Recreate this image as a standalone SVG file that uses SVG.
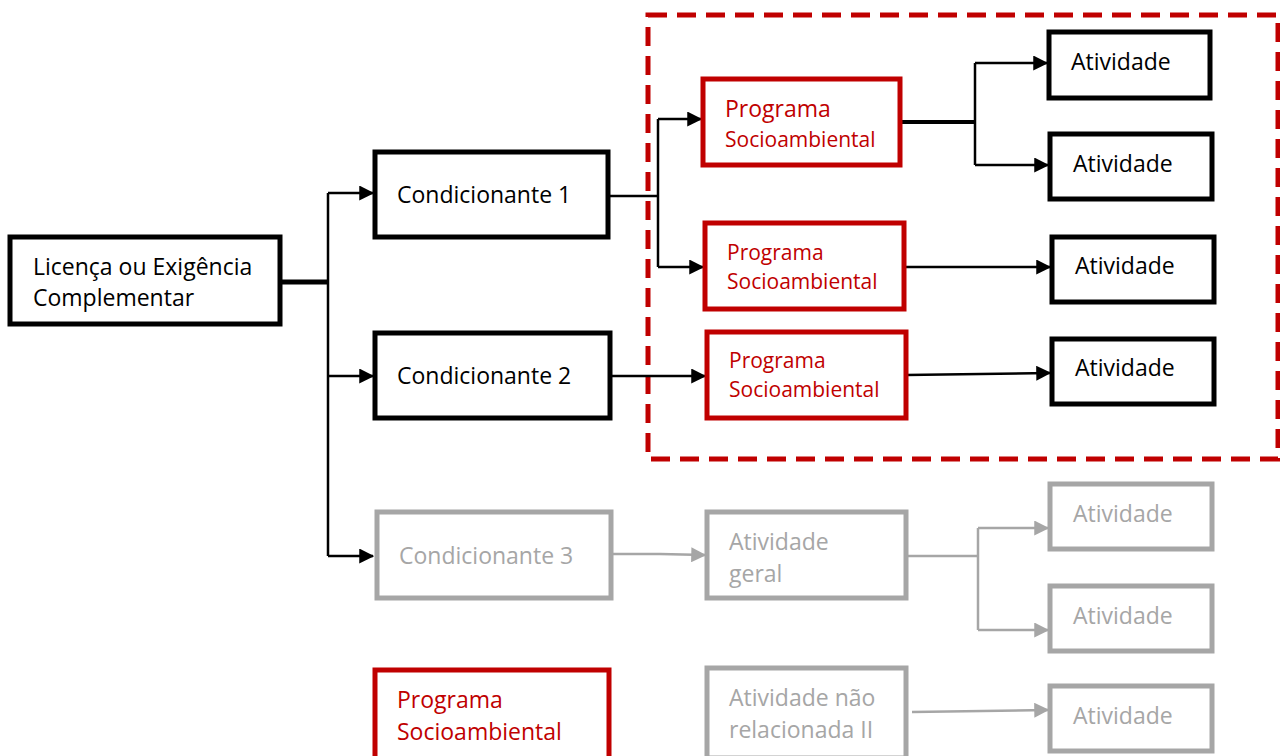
<svg xmlns="http://www.w3.org/2000/svg" width="1280" height="756" viewBox="0 0 1280 756">
<style>
.t{font-family:"Open Sans","Lato","Liberation Sans",sans-serif;font-size:23px}
.s{font-size:21px}
.blk rect{fill:#fff;stroke:#000;stroke-width:5}
.red rect{fill:#fff;stroke:#c00000;stroke-width:5}
.gry rect{fill:#fff;stroke:#a6a6a6;stroke-width:5}
.blk text{fill:#000}
.red text{fill:#c00000}
.gry text{fill:#a6a6a6}
.c{fill:none;stroke:#000;stroke-width:2.5}
.cg{fill:none;stroke:#a6a6a6;stroke-width:2.5}
.thick{stroke-width:5}
</style>
<defs>
<marker id="ab" markerWidth="6" markerHeight="6" refX="5.5" refY="3" orient="auto" markerUnits="strokeWidth"><path d="M0,0L6,3L0,6Z" fill="#000"/></marker>
<marker id="ag" markerWidth="6" markerHeight="6" refX="5.5" refY="3" orient="auto" markerUnits="strokeWidth"><path d="M0,0L6,3L0,6Z" fill="#a6a6a6"/></marker>
</defs>
<rect x="648" y="15" width="630" height="444" fill="none" stroke="#c00000" stroke-width="5" stroke-dasharray="19,10"/>
<g id="connectors">
<path class="c thick" d="M280,282H328"/>
<path class="c" d="M328,193V556"/>
<path class="c" d="M328,193H373" marker-end="url(#ab)"/>
<path class="c" d="M328,376H373" marker-end="url(#ab)"/>
<path class="c" d="M328,556H373" marker-end="url(#ab)"/>
<path class="c" d="M608,196H658"/>
<path class="c" d="M658,119V267"/>
<path class="c" d="M658,119H701" marker-end="url(#ab)"/>
<path class="c" d="M658,267H703" marker-end="url(#ab)"/>
<path class="c" d="M610,376H705" marker-end="url(#ab)"/>
<path class="c" style="stroke-width:4" d="M900,122H975"/>
<path class="c" d="M975,63V165"/>
<path class="c" d="M975,63H1047" marker-end="url(#ab)"/>
<path class="c" d="M975,165H1048" marker-end="url(#ab)"/>
<path class="c" d="M904,267H1050" marker-end="url(#ab)"/>
<path class="c" d="M906,375L1050,373" marker-end="url(#ab)"/>
<path class="cg" d="M611,554H660L705,555" marker-end="url(#ag)"/>
<path class="cg" d="M906,556H978"/>
<path class="cg" d="M978,528V630"/>
<path class="cg" d="M978,528H1048" marker-end="url(#ag)"/>
<path class="cg" d="M978,630H1048" marker-end="url(#ag)"/>
<path class="cg" d="M912,712L1048,710" marker-end="url(#ag)"/>
</g>
<g id="licenca" class="blk"><rect x="10" y="237" width="270" height="87"/><text class="t" x="33" y="275">Licença ou Exigência</text><text class="t" x="33" y="306">Complementar</text></g>
<g id="cond1" class="blk"><rect x="375" y="152" width="233" height="85"/><text class="t" x="397" y="203">Condicionante 1</text></g>
<g id="cond2" class="blk"><rect x="375" y="333" width="235" height="85"/><text class="t" x="397" y="384">Condicionante 2</text></g>
<g id="cond3" class="gry"><rect x="377" y="512" width="234" height="86"/><text class="t" x="399" y="564">Condicionante 3</text></g>
<g id="ps1" class="red"><rect x="703" y="79" width="197" height="86"/><text class="t" x="725" y="117">Programa</text><text class="t s" x="725" y="147">Socioambiental</text></g>
<g id="ps2" class="red"><rect x="705" y="223" width="199" height="86"/><text class="t s" x="727" y="260">Programa</text><text class="t s" x="727" y="289">Socioambiental</text></g>
<g id="ps3" class="red"><rect x="707" y="332" width="199" height="86"/><text class="t s" x="729" y="368">Programa</text><text class="t s" x="729" y="397">Socioambiental</text></g>
<g id="ps4" class="red"><rect x="375" y="670" width="234" height="90"/><text class="t" x="397" y="708">Programa</text><text class="t" x="397" y="740">Socioambiental</text></g>
<g id="ativgeral" class="gry"><rect x="707" y="512" width="199" height="86"/><text class="t" x="729" y="550">Atividade</text><text class="t" x="729" y="582">geral</text></g>
<g id="ativnao" class="gry"><rect x="707" y="668" width="199" height="90"/><text class="t" x="729" y="706">Atividade não</text><text class="t" x="729" y="738">relacionada II</text></g>
<g id="a1" class="blk"><rect x="1049" y="32" width="161" height="66"/><text class="t" x="1071" y="70">Atividade</text></g>
<g id="a2" class="blk"><rect x="1050" y="134" width="162" height="65"/><text class="t" x="1073" y="172">Atividade</text></g>
<g id="a3" class="blk"><rect x="1052" y="237" width="162" height="65"/><text class="t" x="1075" y="274">Atividade</text></g>
<g id="a4" class="blk"><rect x="1052" y="339" width="162" height="65"/><text class="t" x="1075" y="376">Atividade</text></g>
<g id="g1" class="gry"><rect x="1050" y="484" width="162" height="65"/><text class="t" x="1073" y="522">Atividade</text></g>
<g id="g2" class="gry"><rect x="1050" y="586" width="162" height="65"/><text class="t" x="1073" y="624">Atividade</text></g>
<g id="g3" class="gry"><rect x="1050" y="686" width="162" height="65"/><text class="t" x="1073" y="724">Atividade</text></g>
</svg>
